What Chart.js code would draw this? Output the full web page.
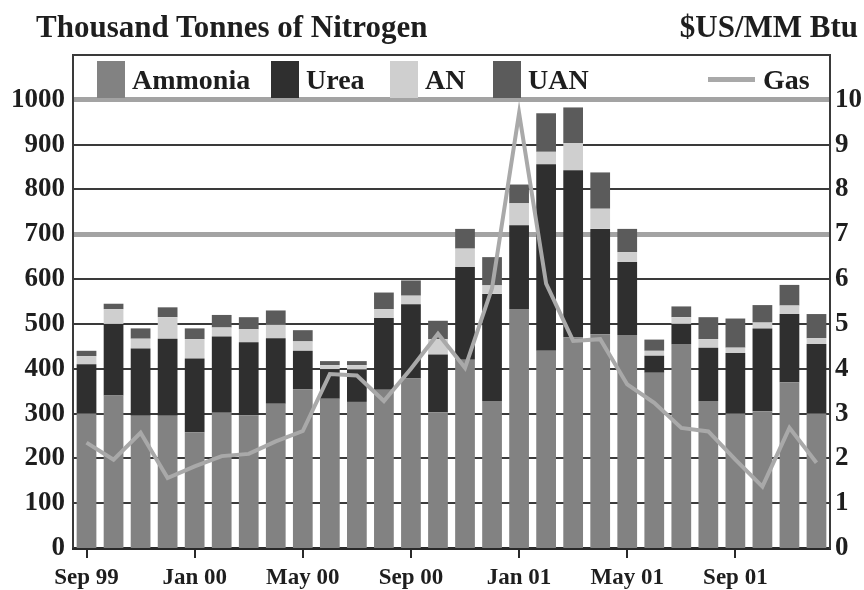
<!DOCTYPE html>
<html>
<head>
<meta charset="utf-8">
<script src="https://cdn.jsdelivr.net/npm/chart.js@4.4.1/dist/chart.umd.min.js"></script>
<style>
  body { margin: 0; background: #fff; }
  #wrap { position: relative; width: 864px; height: 590px; }
  .ttl { position: absolute; top: 11px; font: bold 31px "Liberation Serif", "Times New Roman", serif; line-height: 31px; color: #1e1e1e; white-space: nowrap; }
</style>
</head>
<body>
<div id="wrap">
  <canvas id="myChart" width="864" height="590"></canvas>
  <div class="ttl" style="left:36px">Thousand Tonnes of Nitrogen</div>
  <div class="ttl" style="right:6px">$US/MM Btu</div>
</div>
<script>
const months = ["Sep 99", "Oct 99", "Nov 99", "Dec 99", "Jan 00", "Feb 00", "Mar 00", "Apr 00", "May 00", "Jun 00",
    "Jul 00", "Aug 00", "Sep 00", "Oct 00", "Nov 00", "Dec 00", "Jan 01", "Feb 01", "Mar 01", "Apr 01",
    "May 01", "Jun 01", "Jul 01", "Aug 01", "Sep 01", "Oct 01", "Nov 01", "Dec 01"];

// thousand tonnes N
const ammonia = [300, 340, 295, 295, 258, 302, 296, 322, 354, 333, 326, 353, 378, 303, 420, 328, 533, 440, 470, 477, 475, 391, 455, 328, 300, 305, 370, 300];
const urea = [110, 160, 150, 172, 165, 170, 163, 146, 86, 66, 72, 160, 166, 129, 207, 239, 187, 416, 373, 235, 163, 38, 45, 119, 135, 185, 152, 155];
const an = [18, 33, 22, 48, 43, 20, 29, 30, 21, 9, 10, 20, 19, 34, 41, 19, 49, 28, 60, 45, 22, 11, 15, 19, 12, 13, 19, 13];
const uan = [12, 12, 23, 22, 24, 28, 27, 32, 25, 9, 9, 37, 34, 41, 44, 63, 42, 86, 80, 81, 52, 25, 24, 49, 65, 39, 46, 54];

// $US/MM Btu
const gas = [2.35, 1.97, 2.57, 1.56, 1.82, 2.05, 2.1, 2.38, 2.61, 3.88, 3.85, 3.28, 4.0, 4.78, 4.02, 5.8, 9.7, 5.9, 4.62, 4.66, 3.65, 3.24, 2.68, 2.6, 1.97, 1.37, 2.68, 1.9];

const serif = "'Liberation Serif', 'Times New Roman', serif";
const ink = "#1e1e1e";

// legend drawn inside the plot frame, above the 1000 line
const legendX = [97, 271, 390, 493, 708];
const boxLegend = {
    id: "boxLegend",
    afterDraw(chart) {
        const c = chart.ctx;
        c.save();
        c.font = "bold 28px " + serif;
        c.textBaseline = "alphabetic";
        chart.data.datasets.forEach((ds, i) => {
            const x = legendX[i];
            if (ds.type === "line") {
                c.fillStyle = ds.borderColor;
                c.fillRect(x, 77, 47, 5);
                c.fillStyle = ink;
                c.fillText(ds.label, x + 55, 89);
            } else {
                c.fillStyle = ds.backgroundColor;
                c.fillRect(x, 61, 28, 37);
                c.fillStyle = ink;
                c.fillText(ds.label, x + 35, 89);
            }
        });
        c.restore();
    }
};

const ctx = document.getElementById("myChart").getContext("2d");
const myChart = new Chart(ctx, {
    type: "bar",
    data: {
        labels: months,
        datasets: [
            { label: "Ammonia", data: ammonia, backgroundColor: "#828282", order: 1 },
            { label: "Urea", data: urea, backgroundColor: "#2f2f2f", order: 1 },
            { label: "AN", data: an, backgroundColor: "#cfcfcf", order: 1 },
            { label: "UAN", data: uan, backgroundColor: "#5b5b5b", order: 1 },
            { type: "line", label: "Gas", data: gas, yAxisID: "y1", borderColor: "#a9a9a9", borderWidth: 4,
              pointRadius: 0, tension: 0, order: 0 }
        ]
    },
    options: {
        responsive: false,
        animation: false,
        layout: { padding: { left: 11, top: 55, right: 0, bottom: 0 } },
        datasets: { bar: { barPercentage: 0.73, categoryPercentage: 1 } },
        plugins: { legend: { display: false }, tooltip: { enabled: false } },
        scales: {
            x: {
                stacked: true,
                afterFit: s => { s.height = 42; },
                border: { color: "#2a2a2a", width: 3 },
                grid: {
                    offset: false,
                    drawOnChartArea: false,
                    tickLength: 10,
                    lineWidth: 2,
                    color: c => (c.index % 4 === 0 ? "#2a2a2a" : "rgba(0,0,0,0)")
                },
                ticks: {
                    autoSkip: false,
                    maxRotation: 0,
                    padding: 6,
                    color: ink,
                    font: { family: serif, size: 23, weight: "bold" },
                    callback: function (v, i) { return i % 4 === 0 ? this.getLabelForValue(v) : ""; }
                }
            },
            y: {
                stacked: true,
                min: 0,
                max: 1100,
                afterFit: s => { s.width = 62; },
                border: { color: "#3a3a3a", width: 2 },
                grid: {
                    drawTicks: false,
                    color: c => (c.tick.value === 700 || c.tick.value === 1000 ? "#a3a3a3" : "#3a3a3a"),
                    lineWidth: c => (c.tick.value === 700 || c.tick.value === 1000 ? 5 : (c.tick.value === 0 ? 0 : 2))
                },
                ticks: {
                    stepSize: 100,
                    padding: 8,
                    color: ink,
                    font: { family: serif, size: 27, weight: "bold" },
                    callback: v => (v > 1000 ? "" : v)
                }
            },
            y1: {
                position: "right",
                min: 0,
                max: 11,
                afterFit: s => { s.width = 34; },
                border: { color: "#3a3a3a", width: 2 },
                grid: { drawOnChartArea: false, drawTicks: false },
                ticks: {
                    stepSize: 1,
                    padding: 5,
                    color: ink,
                    font: { family: serif, size: 27, weight: "bold" },
                    callback: v => (v > 10 ? "" : v)
                }
            }
        }
    },
    plugins: [boxLegend]
});
</script>
</body>
</html>
